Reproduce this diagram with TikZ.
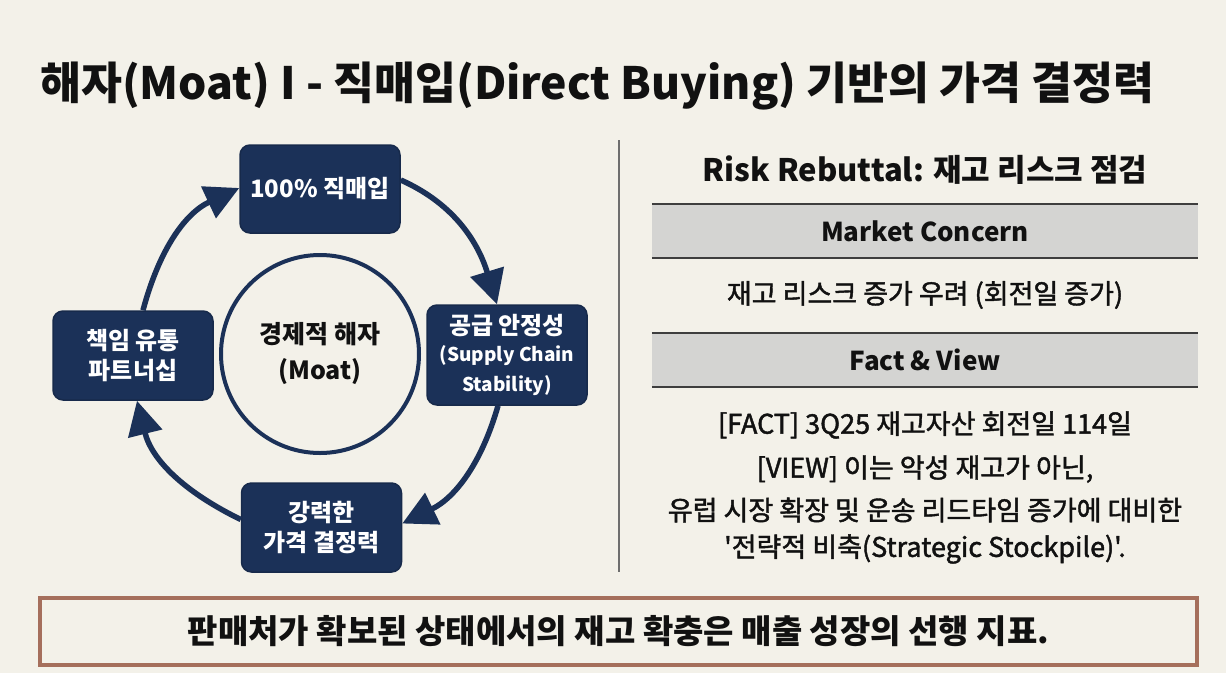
\documentclass[tikz,border=0pt]{standalone}
\usepackage{fontspec}
\setmainfont{Noto Sans CJK KR}
\newfontfamily\medfont{Noto Sans CJK KR}[FakeBold=1.6]
\usetikzlibrary{arrows.meta}
\definecolor{bg}{HTML}{F3F1E9}
\definecolor{navy}{HTML}{1B3158}
\definecolor{bandgray}{HTML}{D4D4D2}
\definecolor{rulegray}{HTML}{3E3E3E}
\definecolor{framebrown}{HTML}{A56F5C}
\definecolor{dividergray}{HTML}{6E6E6E}
\definecolor{ink}{HTML}{111111}
\begin{document}
\begin{tikzpicture}[x=1pt,y=1pt,
  navybox/.style={draw=navy!85!black, line width=1.5pt, fill=navy, rounded corners=10pt,
    text=white, font=\bfseries\fontsize{24}{30}\selectfont, align=center, inner sep=0pt,
    minimum width=160},
  cyc/.style={draw=navy, line width=5.5pt, -{Triangle[length=34pt,width=34pt]}},
  bandbox/.style={fill=bandgray, minimum width=546, minimum height=53, inner sep=0pt,
    text=ink, font=\bfseries\fontsize{26}{30}\selectfont},
  bandrule/.style={draw=rulegray, line width=1.8pt},
  bodytext/.style={text=ink, font=\medfont\fontsize{27}{32}\selectfont, inner sep=0pt},
]
\fill[bg] (0,0) rectangle (1226,-673);
\useasboundingbox (0,0) rectangle (1226,-673);

% title
\node[anchor=west, text=ink, font=\bfseries\fontsize{44.5}{50}\selectfont, inner sep=0pt] (title) at (40,-86)
  {해자(Moat) I - 직매입(Direct Buying) 기반의 가격 결정력};

% cycle
\node[navybox, minimum height=88] (top) at (320,-189) {100\% 직매입};
\node[navybox, minimum height=100] (right) at (507,-355)
  {공급 안정성\\[-3pt]\fontsize{19}{23}\selectfont (Supply Chain\\\fontsize{19}{23}\selectfont Stability)};
\node[navybox, minimum height=89] (bottom) at (321.5,-527.5) {강력한\\가격 결정력};
\node[navybox, minimum height=89] (left) at (133,-355.5) {책임 유통\\파트너십};
\node[circle, draw=navy, line width=4pt, minimum size=198, inner sep=0pt, text=ink,
  font=\bfseries\fontsize{25}{36}\selectfont, align=center] (moat) at (320,-354) {경제적 해자\\(Moat)};

\draw[cyc] ([yshift=9pt]top.east) to[out=-24, in=107] ([xshift=-10pt]right.north);
\draw[cyc] ([xshift=-9pt]right.south) to[out=-106, in=26] ([yshift=4pt]bottom.east);
\draw[cyc] ([yshift=8pt]bottom.west) to[out=154, in=-76] ([xshift=4pt]left.south);
\draw[cyc] ([xshift=10pt]left.north) to[out=75, in=-155] ([yshift=1pt]top.west);

% divider
\draw[dividergray, line width=1.5pt] (619,-140) -- (619,-572);

% right panel
\node[text=ink, font=\bfseries\fontsize{31}{36}\selectfont, inner sep=0pt] (rr) at (925,-170)
  {Risk Rebuttal: 재고 리스크 점검};
\node[bandbox] (mc) at (925,-231) {Market Concern};
\draw[bandrule] (mc.north west) -- (mc.north east);
\draw[bandrule] (mc.south west) -- (mc.south east);
\node[bodytext] (concern) at (925,-295) {재고 리스크 증가 우려 (회전일 증가)};
\node[bandbox] (fv) at (925,-360) {Fact \& View};
\draw[bandrule] (fv.north west) -- (fv.north east);
\draw[bandrule] (fv.south west) -- (fv.south east);
\node[bodytext] (fact) at (925,-425) {[FACT] 3Q25 재고자산 회전일 114일};
\node[bodytext] (view1) at (925,-469) {[VIEW] 이는 악성 재고가 아닌,};
\node[bodytext] (view2) at (925,-510) {유럽 시장 확장 및 운송 리드타임 증가에 대비한};
\node[bodytext] (view3) at (925,-549) {'전략적 비축(Strategic Stockpile)'.};

% bottom banner
\node[draw=framebrown, line width=4pt, fill=bg, minimum width=1157, minimum height=67, inner sep=0pt,
  text=ink, font=\bfseries\fontsize{33}{38}\selectfont] (banner) at (618.5,-631.5)
  {판매처가 확보된 상태에서의 재고 확충은 매출 성장의 선행 지표.};
\end{tikzpicture}
\end{document}
